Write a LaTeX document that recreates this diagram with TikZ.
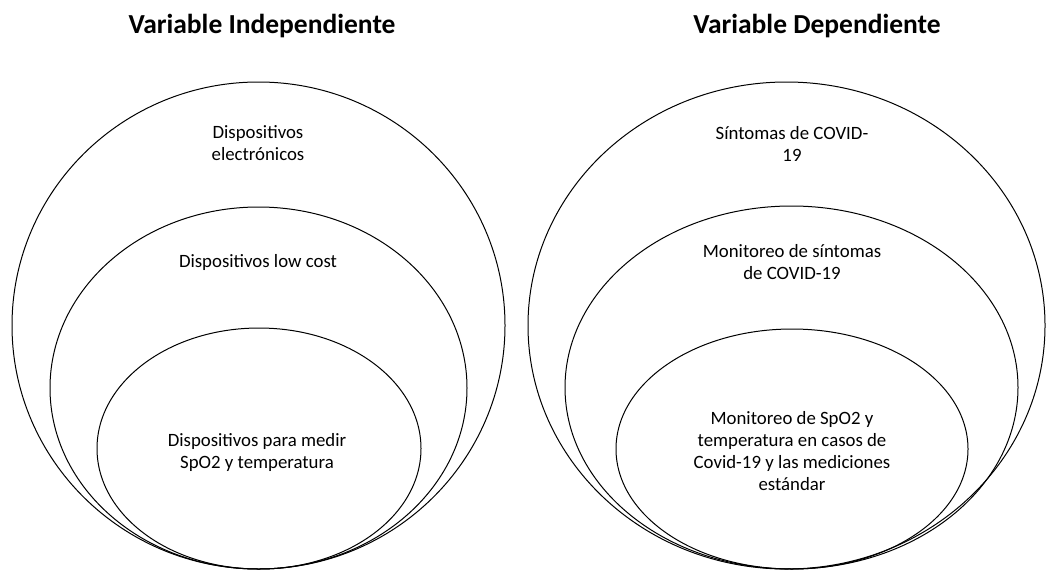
\documentclass[tikz,border=0pt]{standalone}
\usepackage{fontspec}
\setmainfont{Carlito}
\usetikzlibrary{shapes.geometric}

\begin{document}
\begin{tikzpicture}[
    x=1pt, y=-1pt,
    set/.style = {
      draw,
      ellipse,
      line width = 1pt,
      inner sep = 0pt
    },
    title/.style = {
      font=\fontsize{27.5}{32}\selectfont\bfseries
    },
    lbl/.style = {
      align = center,
      inner sep = 0pt,
      font=\fontsize{18.8}{22}\selectfont
    }
  ]
  \useasboundingbox (0,0) rectangle (1046,571);
  % titles
  \node[title] (indep) at (262,26) {Variable Independiente};
  \node[title] (dep)   at (817,26) {Variable Dependiente};
  % left sets
  \node[set, minimum width=493pt, minimum height=487pt] (elec) at (258.5,325.5) {};
  \node[set, minimum width=417pt, minimum height=362pt] (low)  at (258.5,388) {};
  \node[set, minimum width=324pt, minimum height=241pt] (spo)  at (259,448.5) {};
  \node[lbl] (elec-t) at (258,143) {Dispositivos\\electrónicos};
  \node[lbl] (low-t)  at (258,262) {Dispositivos low cost};
  \node[lbl] (spo-t)  at (257,452) {Dispositivos para medir\\SpO2 y temperatura};
  % right sets
  \node[set, minimum width=517pt, minimum height=487pt] (sint) at (786.5,325.5) {};
  \node[set, minimum width=453pt, minimum height=363pt] (mon)  at (791.5,387.5) {};
  \node[set, minimum width=352pt, minimum height=240pt] (mspo) at (792,449) {};
  \node[lbl] (sint-t) at (792,144) {Síntomas de COVID-\\19};
  \node[lbl] (mon-t)  at (792,262) {Monitoreo de síntomas\\de COVID-19};
  \node[lbl] (mspo-t) at (792,451) {Monitoreo de SpO2 y\\temperatura en casos de\\Covid-19 y las mediciones\\estándar};
\end{tikzpicture}
\end{document}
